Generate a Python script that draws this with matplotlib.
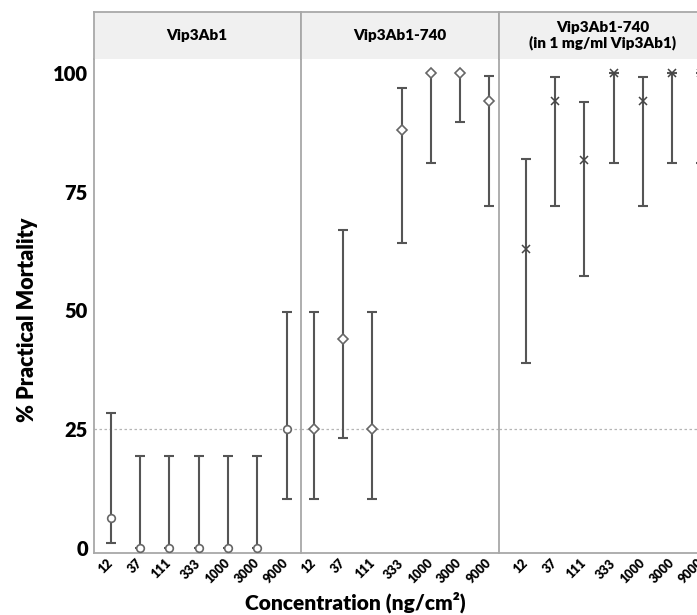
import matplotlib
matplotlib.use("Agg")
import matplotlib.pyplot as plt
import matplotlib.transforms as mtrans
import numpy as np

plt.rcParams['font.family'] = ['Lato', 'DejaVu Sans']
plt.rcParams['font.weight'] = 'bold'

conc = ['12', '37', '111', '333', '1000', '3000', '9000']
panels = ['Vip3Ab1', 'Vip3Ab1-740', 'Vip3Ab1-740\n(in 1 mg/ml Vip3Ab1)']

# mean % mortality and lower / upper interval, per panel
p1_mean = [6.3, 0, 0, 0, 0, 0, 25]
p1_low = [1.0, 0, 0, 0, 0, 0, 10.2]
p1_high = [28.3, 19.3, 19.3, 19.3, 19.3, 19.3, 49.7]

p2_mean = [25, 44, 25, 87.9, 100, 100, 94.1]
p2_low = [10.2, 23.2, 10.2, 64.2, 80.9, 89.6, 71.9]
p2_high = [49.7, 67, 49.7, 96.8, 100, 100, 99.3]

p3_mean = [62.9, 94.1, 81.6, 100, 94.1, 100, 100]
p3_low = [38.8, 72, 57.2, 80.9, 72, 80.9, 80.9]
p3_high = [81.8, 99.2, 93.8, 100, 99.2, 100, 100]

W, H = 697.0, 615.0
fig = plt.figure(figsize=(W / 100, H / 100), dpi=100)

# panel extents in pixels and x limits (category units)
edges = [(93.5, 300.5), (300.5, 499), (499, 707)]
xlims = [(-0.586, 6.47), (-0.474, 6.35), (-0.925, 6.2)]
markers = [('o', 5.5), ('D', 5.5), ('x', 6)]
data = [(p1_mean, p1_low, p1_high), (p2_mean, p2_low, p2_high), (p3_mean, p3_low, p3_high)]

y_bot, y_top, h_top = 552.7, 59, 12
spine_c = '#a8a8a8'
x = np.arange(len(conc))
shift = mtrans.ScaledTranslation(7 / 100, 0, fig.dpi_scale_trans)

for i, (l, r) in enumerate(edges):
    ax = fig.add_axes([l / W, 1 - y_bot / H, (r - l) / W, (y_bot - y_top) / H])
    mean, low, high = [np.array(a, dtype=float) for a in data[i]]
    ax.axhline(25, color='#b5b5b5', lw=0.9, ls=(0, (2, 2)), zorder=1)
    ax.errorbar(x, mean, yerr=[mean - low, high - mean], fmt='none', ecolor='#555555',
                elinewidth=1.5, capsize=3.5, capthick=1.5, zorder=2)
    m, ms = markers[i]
    if m == 'x':
        ax.plot(x, mean, ls='none', marker=m, ms=ms, mec='#444444', mew=1.1, zorder=3, clip_on=False)
    else:
        ax.plot(x, mean, ls='none', marker=m, ms=ms, mfc='white', mec='#666666', mew=1.2,
                zorder=3, clip_on=False)
    ax.set_xlim(*xlims[i])
    ax.set_ylim(-1.05, 102.9)
    ax.set_xticks(x)
    ax.set_xticklabels(conc, rotation=45, ha='right', va='center', rotation_mode='anchor',
                       fontsize=9, fontweight='heavy')
    for lab in ax.get_xticklabels():
        lab.set_transform(lab.get_transform() + shift)
    ax.set_yticks([0, 25, 50, 75, 100])
    if i == 0:
        ax.set_yticklabels(['0', '25', '50', '75', '100'], fontsize=14.5, fontweight='heavy')
    else:
        ax.set_yticklabels([])
    ax.tick_params(axis='both', length=0)
    ax.tick_params(axis='y', pad=4)
    ax.tick_params(axis='x', pad=6)
    for s in ['top', 'right']:
        ax.spines[s].set_visible(False)
    for s in ['left', 'bottom']:
        ax.spines[s].set_color(spine_c)
        ax.spines[s].set_linewidth(1.3)

    hax = fig.add_axes([l / W, 1 - y_top / H, (r - l) / W, (y_top - h_top) / H])
    hax.set_facecolor('#f0f0f0')
    hax.set_xticks([])
    hax.set_yticks([])
    for s in hax.spines.values():
        s.set_color(spine_c)
        s.set_linewidth(1.3)
    hax.spines['bottom'].set_visible(False)
    hax.text(0.5, 0.5, panels[i], ha='center', va='center', fontsize=11,
             fontweight='heavy', transform=hax.transAxes, linespacing=1.15)

fig.text(28 / W, 1 - 320 / H, '% Practical Mortality', rotation=90, ha='center', va='center',
         fontsize=15.5, fontweight='heavy')
fig.text(355 / W, 1 - 602 / H, 'Concentration (ng/cm²)', ha='center', va='center',
         fontsize=15, fontweight='heavy')

fig.savefig('out.png', dpi=100)
